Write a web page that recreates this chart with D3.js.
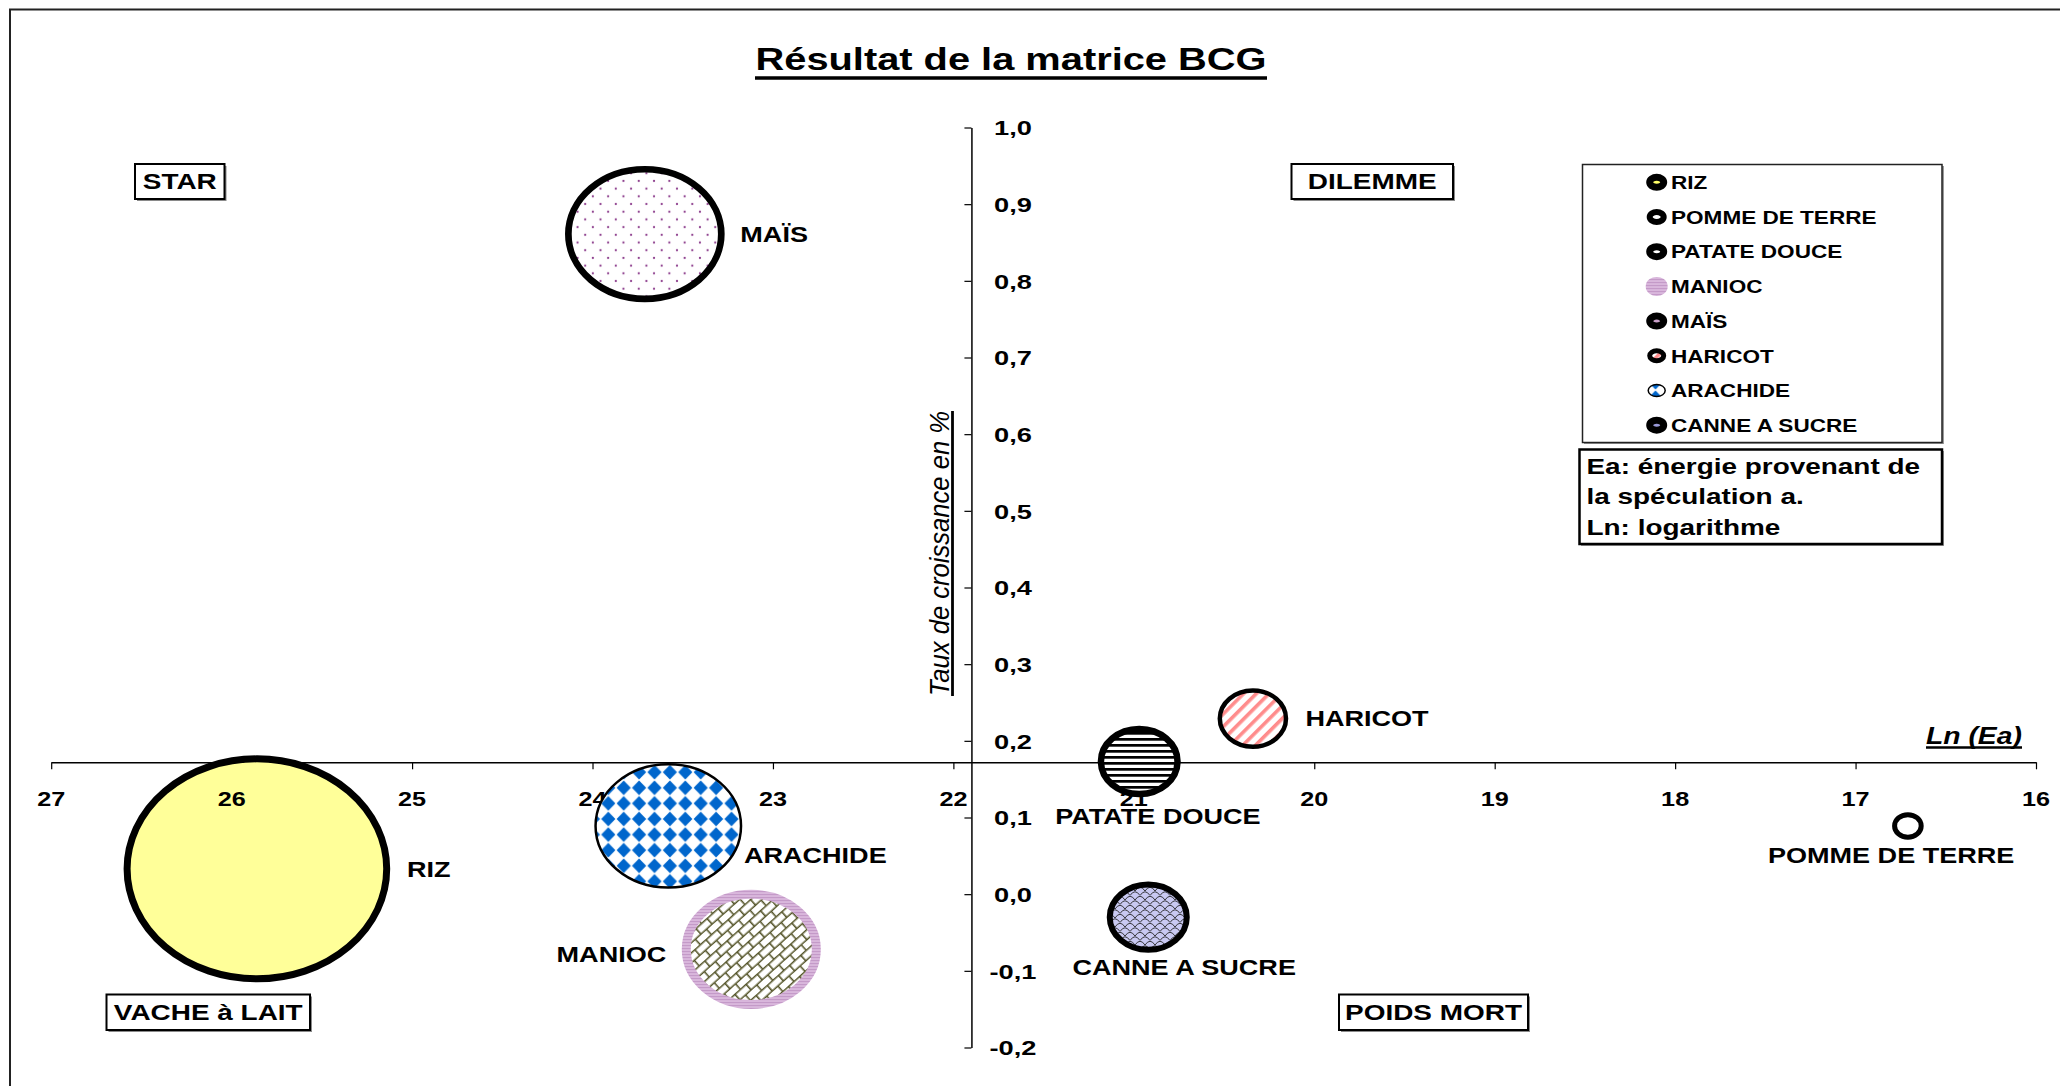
<!DOCTYPE html>
<html lang="fr">
<head>
<meta charset="utf-8">
<script src="https://cdn.jsdelivr.net/npm/d3@7"></script>
<style>
  html, body { margin: 0; padding: 0; background: #fff; }
  svg { display: block; font-family: "Liberation Sans", Arial, Helvetica, sans-serif; }
</style>
</head>
<body>
<svg id="chart" width="2060" height="1086"></svg>
<script>
// ---- Données de la matrice BCG ----
const cultures = ["RIZ", "POMME DE TERRE", "PATATE DOUCE", "MANIOC", "MAÏS", "HARICOT", "ARACHIDE", "CANNE A SUCRE"];
const lnEa = [25.86, 16.71, 20.97, 23.12, 23.71, 20.34, 23.58, 20.92];            // Ln(Ea)
const tauxCroissance = [0.033, 0.089, 0.173, -0.072, 0.861, 0.229, 0.089, -0.030]; // taux de croissance
const tailleBulle = [100, 1.05, 8.7, 25.1, 34.7, 6.5, 31.4, 8.8];                  // taille relative des bulles
const xTicks = [27, 26, 25, 24, 23, 22, 21, 20, 19, 18, 17, 16];
const yTicks = [1.0, 0.9, 0.8, 0.7, 0.6, 0.5, 0.4, 0.3, 0.2, 0.1, 0.0, -0.1, -0.2];
const quadrants = ["STAR", "DILEMME", "VACHE à LAIT", "POIDS MORT"];
const noteLignes = ["Ea: énergie provenant de", "la spéculation a.", "Ln: logarithme"];
const titre = "Résultat de la matrice BCG";
const titreAxeY = "Taux de croissance en %";
const titreAxeX = "Ln (Ea)";
const croisementX = 21.9;   // valeur de Ln(Ea) où passe l'axe vertical
const croisementY = 0.172;  // taux où passe l'axe horizontal

// ---- Mise en page ----
const svg = d3.select("#chart");
const ASPECT = 1.18; // bulles étirées horizontalement

const x = d3.scaleLinear().domain([27, 16]).range([51.2, 2036]);
const y = d3.scaleLinear().domain([-0.2, 1.0]).range([1047.5, 127.5]);
const r = d3.scaleSqrt().domain([0, 100]).range([0, 110]);

const fr = d3.formatLocale({ decimal: ",", thousands: " ", grouping: [3], currency: ["", " €"], minus: "-" });
const fmtY = fr.format(".1f");

// texte étiré horizontalement autour de son point d'ancrage
function texte(parent, str, px, py, o) {
  return parent.append("text")
    .attr("transform", `translate(${px},${py}) scale(${o.sx || 1},1)`)
    .attr("font-size", o.size)
    .attr("font-weight", o.weight || "bold")
    .attr("font-style", o.style || "normal")
    .attr("text-anchor", o.anchor || "start")
    .attr("fill", o.fill || "#000")
    .text(str);
}

// ---- Motifs de remplissage ----
const defs = svg.append("defs");

function motif(id, w, h, transform) {
  const p = defs.append("pattern").attr("id", id)
    .attr("patternUnits", "userSpaceOnUse").attr("width", w).attr("height", h);
  if (transform) p.attr("patternTransform", transform);
  return p;
}

// rayures horizontales noires
const pRay = motif("m-rayures", 6, 6);
pRay.append("rect").attr("width", 6).attr("height", 6).attr("fill", "#fff");
pRay.append("rect").attr("width", 6).attr("height", 2.7).attr("fill", "#000");

// rayures diagonales saumon
const pDiag = motif("m-diag", 9, 9, "rotate(45)");
pDiag.append("rect").attr("width", 9).attr("height", 9).attr("fill", "#fff");
pDiag.append("rect").attr("width", 3.6).attr("height", 9).attr("fill", "#FF8C8C");

// points violets en quinconce
const pPts = motif("m-points", 15.3, 15.4);
pPts.append("rect").attr("width", 15.3).attr("height", 15.4).attr("fill", "#fff");
pPts.append("circle").attr("cx", 3.8).attr("cy", 3.85).attr("r", 1.1).attr("fill", "#8B3A8B");
pPts.append("circle").attr("cx", 11.45).attr("cy", 11.55).attr("r", 1.1).attr("fill", "#8B3A8B");

// losanges bleus
const pLos = motif("m-losanges", 15.4, 15.6);
pLos.append("rect").attr("width", 15.4).attr("height", 15.6).attr("fill", "#fff");
pLos.append("polygon").attr("points", "7.7,0.6 14.8,7.8 7.7,15 0.6,7.8").attr("fill", "#0066CC");

// treillis olive
const pTr = motif("m-treillis", 15, 15, "rotate(-42)");
pTr.append("rect").attr("width", 15).attr("height", 15).attr("fill", "#fff");
pTr.append("path").attr("d", "M0,0.8H15M0,8.3H15M0.8,0.8V8.3M8.3,8.3V15.8")
  .attr("stroke", "#55552A").attr("stroke-width", 1.6).attr("fill", "none");

// écailles sur fond lavande
const pEc = motif("m-ecailles", 10, 9);
pEc.append("rect").attr("width", 10).attr("height", 9).attr("fill", "#C9C9F2");
pEc.append("path").attr("d", "M0,4.5 Q5,-3 10,4.5 M-5,9 Q0,1.5 5,9 M5,9 Q10,1.5 15,9")
  .attr("stroke", "#222").attr("stroke-width", 0.9).attr("fill", "none");

// bordure lavande striée
const pLav = motif("m-lavande", 4, 3);
pLav.append("rect").attr("width", 4).attr("height", 3).attr("fill", "#D9B7DC");
pLav.append("rect").attr("width", 4).attr("height", 1.1).attr("fill", "#C49AC8");

// style de chaque bulle (même ordre que cultures) et de son symbole de légende
const styles = [
  { fill: "#FFFF99", stroke: "#000", sw: 7, lsw: 7, lrx: 7, lry: 5, lfill: "#FFFF66" },
  { fill: "#fff", stroke: "#000", sw: 5, lsw: 6, lrx: 7, lry: 5, lfill: "#fff" },
  { fill: "url(#m-rayures)", stroke: "#000", sw: 6.5, lsw: 7, lrx: 7, lry: 5, lfill: "#fff" },
  { fill: "url(#m-treillis)", stroke: "url(#m-lavande)", sw: 9, lsw: 11, lrx: 5.5, lry: 4, lfill: "#777744" },
  { fill: "url(#m-points)", stroke: "#000", sw: 6.7, lsw: 7, lrx: 7, lry: 5, lfill: "#C9A0C9" },
  { fill: "url(#m-diag)", stroke: "#000", sw: 4.5, lsw: 5, lrx: 7, lry: 5, lfill: "url(#m-diag)" },
  { fill: "url(#m-losanges)", stroke: "#000", sw: 2.5, lsw: 1.5, lrx: 8.5, lry: 6, lfill: "url(#m-losanges)" },
  { fill: "url(#m-ecailles)", stroke: "#000", sw: 6, lsw: 7, lrx: 7, lry: 5, lfill: "#9A9AD8" }
];

// placement des étiquettes par rapport au centre de la bulle
const etiquettes = [
  { dx: 150, dy: 0, anchor: "start" },
  { dx: -140, dy: 29, anchor: "start" },
  { dx: -84, dy: 54.5, anchor: "start" },
  { dx: -85, dy: 4.5, anchor: "end" },
  { dx: 95.5, dy: 0, anchor: "start" },
  { dx: 52.5, dy: -0.5, anchor: "start" },
  { dx: 75.6, dy: 29.2, anchor: "start" },
  { dx: -75.8, dy: 50.3, anchor: "start" }
];

// ---- Cadre extérieur ----
svg.append("path").attr("d", "M10,1090V9.5H2065")
  .attr("fill", "none").attr("stroke", "#222").attr("stroke-width", 2);

// ---- Titre ----
svg.append("text")
  .attr("x", 755.5).attr("y", 70)
  .attr("font-size", 32).attr("font-weight", "bold")
  .attr("textLength", 511).attr("lengthAdjust", "spacingAndGlyphs")
  .text(titre);
svg.append("line").attr("x1", 755).attr("x2", 1267).attr("y1", 78).attr("y2", 78)
  .attr("stroke", "#000").attr("stroke-width", 3.5);

// ---- Axe horizontal (ligne et graduations) ----
const gx = svg.append("g")
  .attr("transform", `translate(0,${y(croisementY)})`)
  .call(d3.axisBottom(x).tickValues(xTicks).tickSize(7).tickSizeOuter(0).tickFormat(""));
gx.select(".domain").attr("stroke", "#000").attr("stroke-width", 1.5);
gx.selectAll(".tick line").attr("stroke", "#000").attr("stroke-width", 1.2);

// ---- Axe vertical ----
const gy = svg.append("g")
  .attr("transform", `translate(${x(croisementX)},0)`)
  .call(d3.axisRight(y).tickValues(yTicks).tickSize(-7).tickSizeOuter(0));
gy.select(".domain").attr("stroke", "#000").attr("stroke-width", 1.5);
gy.selectAll(".tick line").attr("stroke", "#000").attr("stroke-width", 1.2);
gy.selectAll(".tick text").remove();
gy.selectAll(".tick").each(function (d) {
  texte(d3.select(this), fmtY(d), 41.5, 7.3, { size: 20.5, sx: 1.33, anchor: "middle" });
});

// titre de l'axe vertical
svg.append("text")
  .attr("transform", "translate(948.5,553.5) rotate(-90)")
  .attr("font-size", 28).attr("font-style", "italic")
  .attr("text-anchor", "middle")
  .attr("textLength", 285).attr("lengthAdjust", "spacingAndGlyphs")
  .text(titreAxeY);
svg.append("line").attr("x1", 952.5).attr("x2", 952.5).attr("y1", 411).attr("y2", 696)
  .attr("stroke", "#000").attr("stroke-width", 2.8);

// titre de l'axe horizontal
texte(svg, titreAxeX, 1926, 743.5, { size: 23, sx: 1.23, style: "italic" });
svg.append("line").attr("x1", 1926).attr("x2", 2022).attr("y1", 747.5).attr("y2", 747.5)
  .attr("stroke", "#000").attr("stroke-width", 2.5);

// ---- Bulles : la plus grosse passe sous les libellés de l'axe, les autres dessus ----
const ordre = d3.range(cultures.length).sort((a, b) => tailleBulle[b] - tailleBulle[a]);
const tailleMax = d3.max(tailleBulle);
const gFond = svg.append("g");
const gLibX = svg.append("g").attr("transform", `translate(0,${y(croisementY)})`);
const gDessus = svg.append("g");

function bulle(g, ids) {
  g.selectAll("ellipse").data(ids).join("ellipse")
    .attr("cx", i => x(lnEa[i]))
    .attr("cy", i => y(tauxCroissance[i]))
    .attr("rx", i => r(tailleBulle[i]) * ASPECT)
    .attr("ry", i => r(tailleBulle[i]))
    .attr("fill", i => styles[i].fill)
    .attr("stroke", i => styles[i].stroke)
    .attr("stroke-width", i => styles[i].sw);
}
bulle(gFond, ordre.filter(i => tailleBulle[i] === tailleMax));
bulle(gDessus, ordre.filter(i => tailleBulle[i] !== tailleMax));

// libellés de l'axe horizontal
xTicks.forEach(v => {
  texte(gLibX, d3.format("d")(v), x(v), 43.5, { size: 21, sx: 1.2, anchor: "middle" });
});

// étiquettes des bulles
const gLab = svg.append("g");
cultures.forEach((c, i) => {
  const e = etiquettes[i];
  texte(gLab, c, x(lnEa[i]) + e.dx, y(tauxCroissance[i]) + e.dy + 8, { size: 22, sx: 1.23, anchor: e.anchor });
});

// ---- Cases des quadrants ----
const quadBoites = [
  { x: 135, y: 164, w: 89.5, h: 35 },
  { x: 1291.5, y: 164, w: 161.5, h: 35 },
  { x: 106.5, y: 994.5, w: 203.5, h: 35.5 },
  { x: 1339, y: 994.5, w: 189, h: 35.5 }
];
quadrants.forEach((q, i) => {
  const b = quadBoites[i];
  const g = svg.append("g");
  g.append("rect").attr("x", b.x + 2).attr("y", b.y + 2).attr("width", b.w).attr("height", b.h).attr("fill", "#8a8a8a");
  g.append("rect").attr("x", b.x).attr("y", b.y).attr("width", b.w).attr("height", b.h)
    .attr("fill", "#fff").attr("stroke", "#000").attr("stroke-width", 2);
  texte(g, q, b.x + b.w / 2, b.y + b.h / 2 + 7.8, { size: 21.5, sx: 1.3, anchor: "middle" });
});

// ---- Légende ----
const leg = svg.append("g");
leg.append("rect").attr("x", 1584).attr("y", 166).attr("width", 360).attr("height", 278).attr("fill", "#9a9a9a");
leg.append("rect").attr("x", 1582.5).attr("y", 164.5).attr("width", 359.5).attr("height", 278)
  .attr("fill", "#fff").attr("stroke", "#222").attr("stroke-width", 1.5);
cultures.forEach((c, i) => {
  const cy = 182.3 + i * 34.7;
  const s = styles[i];
  leg.append("ellipse").attr("cx", 1656.7).attr("cy", cy)
    .attr("rx", s.lrx).attr("ry", s.lry)
    .attr("fill", s.lfill).attr("stroke", s.stroke).attr("stroke-width", s.lsw);
  texte(leg, c, 1671, cy + 6.7, { size: 18.5, sx: 1.22 });
});

// ---- Note explicative ----
const note = svg.append("g");
note.append("rect").attr("x", 1581).attr("y", 451).attr("width", 363).attr("height", 95).attr("fill", "#9a9a9a");
note.append("rect").attr("x", 1579.5).attr("y", 449.5).attr("width", 362.5).attr("height", 94.5)
  .attr("fill", "#fff").attr("stroke", "#000").attr("stroke-width", 2.5);
noteLignes.forEach((l, i) => {
  texte(note, l, 1586.5, 474 + i * 30.3, { size: 22, sx: 1.27 });
});
</script>
</body>
</html>
